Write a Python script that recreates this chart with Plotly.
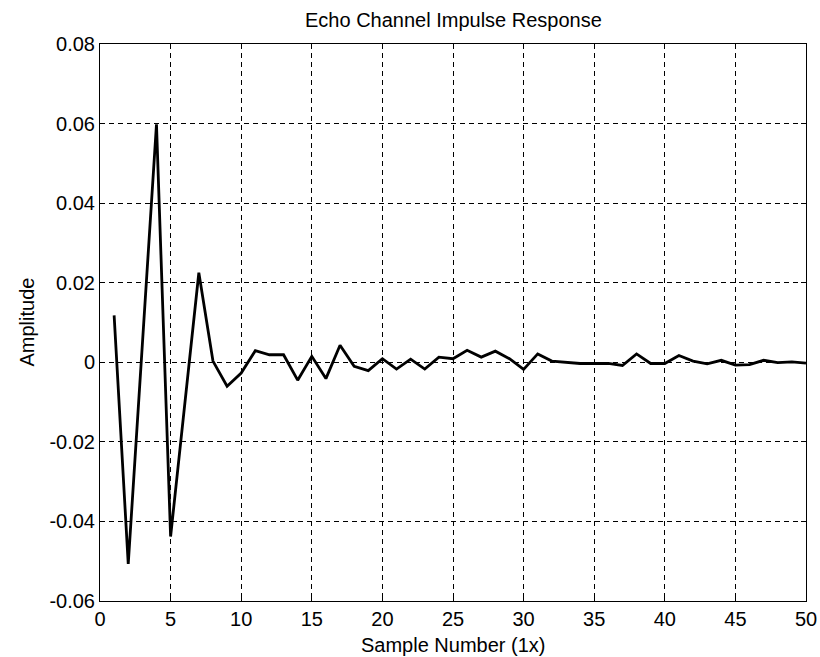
import plotly.graph_objects as go

# Echo channel impulse response, one tap per sample
sample_number = list(range(1, 51))
amplitude = [
    0.0118, -0.0507, 0.0045, 0.0598, -0.0438, -0.0110, 0.0225, 0.0003, -0.0060, -0.0027,
    0.0029, 0.0019, 0.0019, -0.0045, 0.0015, -0.0041, 0.0043, -0.0010, -0.0021, 0.0009,
    -0.0017, 0.0008, -0.0017, 0.0013, 0.0009, 0.0030, 0.0013, 0.0028, 0.0009, -0.0018,
    0.0021, 0.0003, 0.0000, -0.0003, -0.0003, -0.0003, -0.0008, 0.0021, -0.0003, -0.0003,
    0.0017, 0.0003, -0.0004, 0.0005, -0.0007, -0.0006, 0.0005, -0.0001, 0.0001, -0.0002,
]

x_tick_vals = [0, 5, 10, 15, 20, 25, 30, 35, 40, 45, 50]
x_tick_text = ["0", "5", "10", "15", "20", "25", "30", "35", "40", "45", "50"]
y_tick_vals = [-0.06, -0.04, -0.02, 0, 0.02, 0.04, 0.06, 0.08]
y_tick_text = ["-0.06", "-0.04", "-0.02", "0", "0.02", "0.04", "0.06", "0.08"]

title_text = "Echo Channel Impulse Response"
x_label = "Sample Number (1x)"
y_label = "Amplitude"

FONT = "Liberation Sans, Arial, sans-serif"

fig = go.Figure()
fig.add_trace(go.Scatter(
    x=sample_number, y=amplitude, mode="lines",
    line=dict(color="black", width=2.8),
    showlegend=False, hoverinfo="x+y",
))

axis_common = dict(
    showline=True, linecolor="black", linewidth=1, mirror="ticks",
    ticks="inside", ticklen=5, tickcolor="black",
    showgrid=True, gridcolor="black", gridwidth=1, griddash="5px,4px",
    zeroline=False,
    tickfont=dict(family=FONT, size=20, color="black"),
)

fig.update_xaxes(range=[0, 50], tickvals=x_tick_vals, ticktext=x_tick_text, **axis_common)
fig.update_yaxes(range=[-0.06, 0.08], tickvals=y_tick_vals, ticktext=y_tick_text, **axis_common)

fig.update_layout(
    width=820, height=657,
    margin=dict(l=100, r=14, t=44, b=56, autoexpand=False),
    paper_bgcolor="white", plot_bgcolor="white",
    font=dict(family=FONT, size=20, color="black"),
    annotations=[
        dict(text=title_text, xref="paper", yref="paper", x=0.5, y=1,
             yshift=24, xanchor="center", yanchor="middle", showarrow=False,
             font=dict(family=FONT, size=20, color="black")),
        dict(text=x_label, xref="paper", yref="paper", x=0.5, y=0,
             yshift=-44, xanchor="center", yanchor="middle", showarrow=False,
             font=dict(family=FONT, size=20, color="black")),
        dict(text=y_label, xref="paper", yref="paper", x=0, y=0.5,
             xshift=-74, xanchor="center", yanchor="middle", textangle=-90,
             showarrow=False, font=dict(family=FONT, size=20, color="black")),
    ],
)

fig.write_html("out.html")
